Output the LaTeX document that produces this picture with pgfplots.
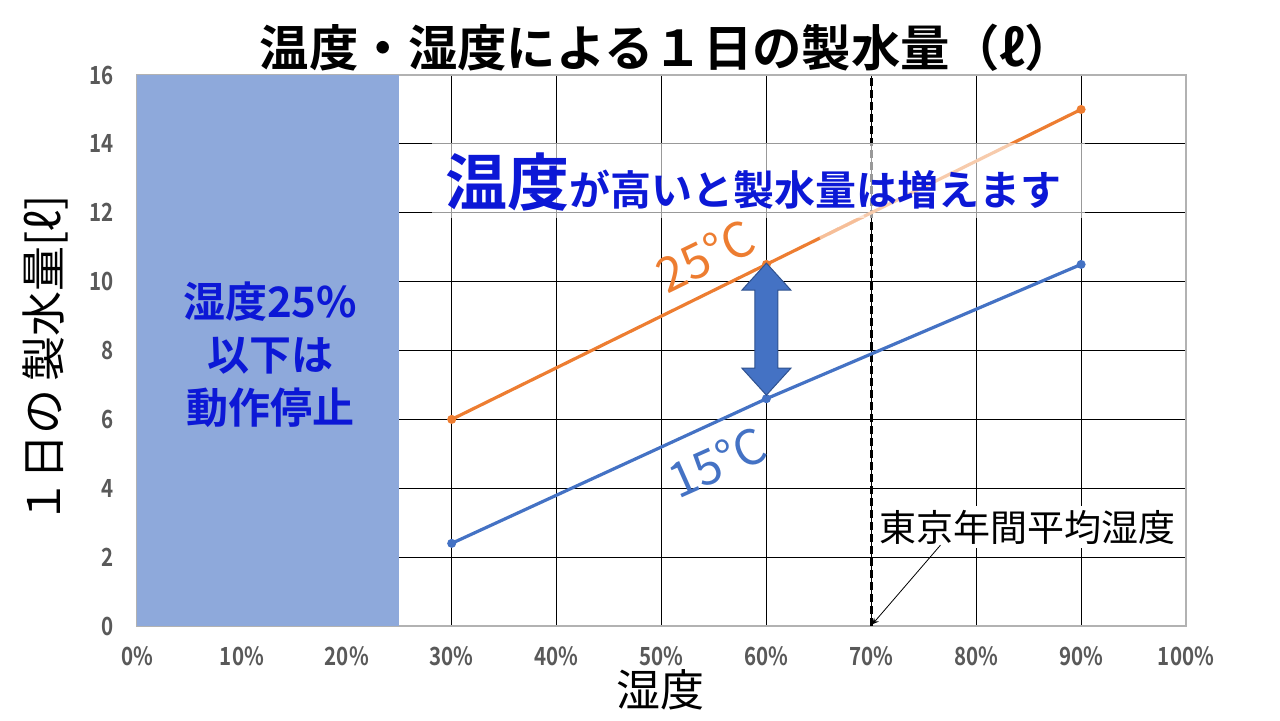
\documentclass[border=0pt]{standalone}
\usepackage{fontspec}
\setmainfont{Noto Sans CJK JP}[BoldFont={* Bold}]
\newfontfamily\tickfont{Noto Sans CJK JP Bold}[FakeStretch=0.82]
\usepackage{pgfplots}
\pgfplotsset{compat=1.18}
\definecolor{c25}{HTML}{ED7D31}
\definecolor{c15}{HTML}{4472C4}
\definecolor{offbox}{HTML}{8EA9DB}
\definecolor{txtblue}{RGB}{12,24,214}
\definecolor{tickgray}{HTML}{595959}
\definecolor{arrowedge}{HTML}{2F528F}

\begin{document}
\begin{tikzpicture}[x=1pt,y=1pt]
\path[use as bounding box] (-68.5,-47) rectangle (571.5,313);
\begin{axis}[
  at={(0,0)}, anchor=south west,
  scale only axis, width=524.5pt, height=275.5pt,
  xmin=0, xmax=100, ymin=0, ymax=16,
  xtick={0,10,...,100}, ytick={0,2,...,16},
  xticklabel={\pgfmathprintnumber{\tick}\%},
  /pgf/number format/assume math mode=true,
  ticklabel style={font=\tickfont\fontsize{12.5}{14}\selectfont, text=tickgray},
  xticklabel style={yshift=-7pt},
  yticklabel style={xshift=-8pt},
  major tick length=0pt,
  grid=major,
  major grid style={black, line width=0.6pt},
  axis line style={draw=gray!60, line width=0.6pt},
  clip=false,
]
% area below 25% humidity (machine stops)
\addplot[fill=offbox, draw=none] coordinates {(0,0) (25,0) (25,16) (0,16)} -- cycle;
\node[font=\bfseries\fontsize{21}{26.5}\selectfont, text=txtblue, align=center]
  at (axis cs:12.7,7.87) {湿度25\%\\以下は\\動作停止};

% Tokyo mean humidity
\addplot[black, line width=1.3pt, dashed, dash pattern=on 4pt off 2pt] coordinates {(70,0) (70,16)};

% series
\addplot[c25, line width=1.6pt, mark=*, mark size=1.4pt] coordinates {(30,6.0) (60,10.5) (90,15.0)};
\addplot[c15, line width=1.6pt, mark=*, mark size=1.4pt] coordinates {(30,2.4) (60,6.6) (90,10.5)};
\draw[white, opacity=0.5, line width=1.7pt] (axis cs:65.1,11.265) -- (axis cs:69.3,11.895);

\node[fill=white, fill opacity=0.6, inner sep=0pt, minimum width=326.5pt, minimum height=37.5pt]
  at (axis cs:59.25,12.94) {};
\node[font=\bfseries, text=txtblue, inner sep=0pt] at (axis cs:58.8,12.9)
  {{\fontsize{31}{34}\selectfont 温度}{\fontsize{20.5}{24}\selectfont が高いと製水量は増えます}};

\node[font=\fontsize{24}{26}\selectfont, text=c25, rotate=26, inner sep=0pt] at (axis cs:54.2,10.75) {25°C};
\node[font=\fontsize{24}{26}\selectfont, text=c15, rotate=24, inner sep=0pt] at (axis cs:55.3,4.75) {15°C};

\node[fill=white, font=\fontsize{18.5}{20}\selectfont, inner sep=2pt] at (axis cs:84.9,2.87) {東京年間平均湿度};
\draw[-stealth, black, line width=0.4pt] (axis cs:76.6,2.35) -- (axis cs:70.1,0.05);

\coordinate (arr) at (axis cs:60,8.62);
\end{axis}

\filldraw[fill=c15, draw=arrowedge, line width=0.5pt, shift={(arr)}]
  (0,33) -- (12.25,19.5) -- (5.75,19.5) -- (5.75,-19.5) -- (12.25,-19.5) -- (0,-33)
  -- (-12.25,-19.5) -- (-5.75,-19.5) -- (-5.75,19.5) -- (-12.25,19.5) -- cycle;

\node[font=\bfseries\fontsize{24.7}{28}\selectfont] at (265,289) {温度・湿度による１日の製水量（ℓ）};
\node[font=\fontsize{22.5}{25}\selectfont, rotate=90] at (-46,133) {１日の\hspace{4pt}製水量[ℓ]};
\node[font=\fontsize{22}{24}\selectfont] at (261.5,-32) {湿度};
\end{tikzpicture}
\end{document}
